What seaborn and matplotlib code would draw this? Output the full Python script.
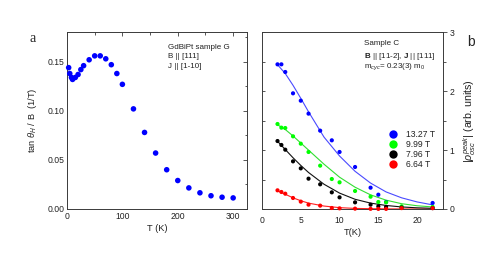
import numpy as np
import pandas as pd
import matplotlib
matplotlib.use("Agg")
import matplotlib.pyplot as plt
import seaborn as sns
from matplotlib.ticker import MultipleLocator

# ---------------- data: panel a ----------------
temp_a = [3, 5, 8, 10, 15, 20, 25, 30, 40, 50, 60, 70, 80, 90, 100,
          120, 140, 160, 180, 200, 220, 240, 260, 280, 300]
tan_a = [0.144, 0.138, 0.134, 0.132, 0.134, 0.137, 0.142, 0.146, 0.152, 0.156,
         0.156, 0.153, 0.147, 0.138, 0.127, 0.102, 0.078, 0.057, 0.040, 0.029,
         0.0215, 0.0165, 0.0135, 0.012, 0.0113]

# ---------------- data: panel b ----------------
fields = ["13.27 T", "9.99 T", "7.96 T", "6.64 T"]
colors = ["#0000ff", "#00ff00", "#000000", "#ff0000"]
line_colors = ["#4a4aff", "#33dd33", "#111111", "#ff2020"]

temp_blue = [2, 2.5, 3, 4, 5, 6, 7.5, 9, 10, 12, 14, 15, 16, 22]
amp_blue = [2.456, 2.456, 2.326, 1.964, 1.839, 1.619, 1.33, 1.166, 0.968, 0.713,
            0.362, 0.243, 0.119, 0.102]
temp_other = [2, 2.5, 3, 4, 5, 6, 7.5, 9, 10, 12, 14, 15, 16, 18, 22]
amp_green = [1.443, 1.381, 1.375, 1.234, 1.109, 0.968, 0.736, 0.509, 0.453, 0.306,
             0.209, 0.119, 0.113, 0.045, 0.035]
amp_black = [1.154, 1.087, 1.007, 0.809, 0.690, 0.515, 0.419, 0.283, 0.198, 0.113,
             0.074, 0.045, 0.034, 0.025, 0.015]
amp_red = [0.317, 0.289, 0.260, 0.187, 0.125, 0.074, 0.057, 0.017, 0.011, 0.006,
           0.003, 0.002, 0.002, 0.015, 0.015]

# fit curves
temp_fit = [2, 3, 4, 5, 6, 8, 10, 12, 14, 16, 18, 20, 22]
fit_blue = [2.45, 2.30, 2.10, 1.88, 1.65, 1.22, 0.90, 0.64, 0.44, 0.29, 0.19, 0.12, 0.07]
fit_green = [1.43, 1.35, 1.24, 1.12, 1.00, 0.76, 0.54, 0.37, 0.24, 0.15, 0.09, 0.055, 0.035]
fit_black = [1.15, 1.01, 0.87, 0.74, 0.62, 0.42, 0.27, 0.165, 0.10, 0.06, 0.035, 0.02, 0.012]
fit_red = [0.31, 0.25, 0.19, 0.14, 0.10, 0.05, 0.023, 0.01, 0.005, 0.002, 0.001, 0.0, 0.0]

sns.set_theme(style="white")
plt.rcParams["font.family"] = ["Liberation Sans", "DejaVu Sans"]
plt.rcParams["mathtext.fontset"] = "custom"
plt.rcParams["mathtext.rm"] = "Liberation Sans"
plt.rcParams["mathtext.it"] = "Liberation Sans:italic"
plt.rcParams["mathtext.bf"] = "Liberation Sans:bold"

fig = plt.figure(figsize=(5.01, 2.59), dpi=100)
axa = fig.add_axes([67 / 501, 1 - 209 / 259, 180 / 501, 176.7 / 259])
axb = fig.add_axes([262 / 501, 1 - 209 / 259, 180.7 / 501, 176.7 / 259])

spine_col = "#3a3a3a"
txt_col = "#222222"
fs = 6.2
fs_ann = 5.8

# ---- panel a ----
dfa = pd.DataFrame({"T": temp_a, "v": tan_a})
sns.scatterplot(data=dfa, x="T", y="v", ax=axa, color="#0000ff", s=16,
                edgecolor="none", clip_on=False, zorder=3)
axa.set_xlim(0, 325)
axa.set_ylim(0, 0.18)
axa.xaxis.set_major_locator(MultipleLocator(100))
axa.xaxis.set_minor_locator(MultipleLocator(50))
axa.yaxis.set_major_locator(MultipleLocator(0.05))
axa.yaxis.set_minor_locator(MultipleLocator(0.025))
axa.yaxis.set_major_formatter(matplotlib.ticker.FormatStrFormatter("%.2f"))
axa.tick_params(which="both", direction="in", top=True, right=True,
                labelsize=fs, colors=spine_col, labelcolor=txt_col, width=0.6, pad=2)
axa.tick_params(which="major", length=3)
axa.tick_params(which="minor", length=1.8)
axa.set_xlabel("T (K)", fontsize=fs + 0.5, labelpad=2, color=txt_col)
axa.set_ylabel(r"tan $\theta_H$ / B  (1/T)", fontsize=fs + 0.5, labelpad=6, color=txt_col)
axa.text(0.56, 0.935, "GdBiPt sample G\nB || [111]\nJ || [1-10]", transform=axa.transAxes,
         fontsize=fs_ann, va="top", ha="left", linespacing=1.5, color=txt_col)
fig.text(33 / 501, 1 - 38 / 259, "a", fontsize=10, family="Liberation Serif",
         ha="center", va="center")

# ---- panel b ----
series = [(temp_blue, amp_blue), (temp_other, amp_green),
          (temp_other, amp_black), (temp_other, amp_red)]
fits = [fit_blue, fit_green, fit_black, fit_red]
rows = []
for name, (tt, vv) in zip(fields, series):
    for t, v in zip(tt, vv):
        rows.append({"T": t, "v": v, "field": name})
dfb = pd.DataFrame(rows)
rows_fit = []
for name, vv in zip(fields, fits):
    for t, v in zip(temp_fit, vv):
        rows_fit.append({"T": t, "v": v, "field": name})
dff = pd.DataFrame(rows_fit)

sns.lineplot(data=dff, x="T", y="v", hue="field", hue_order=fields[::-1],
             palette=dict(zip(fields, line_colors)), ax=axb, legend=False,
             linewidth=0.8, zorder=2)
sns.scatterplot(data=dfb, x="T", y="v", hue="field", hue_order=fields[::-1],
                palette=dict(zip(fields, colors)), ax=axb, s=9,
                edgecolor="none", zorder=3, clip_on=False)
axb.set_xlim(0, 23.3)
axb.set_ylim(0, 3)
axb.set_ylabel("")
axb.xaxis.set_major_locator(MultipleLocator(5))
axb.yaxis.set_major_locator(MultipleLocator(0.5))
axb.tick_params(axis="x", direction="out", length=3, width=0.6, colors=spine_col,
                labelsize=fs, labelcolor=txt_col, pad=2)
axb.tick_params(axis="y", direction="in", length=2.5, width=0.6, colors=spine_col,
                left=True, right=False, labelleft=False)
axb.set_xlabel("T(K)", fontsize=fs + 0.5, labelpad=2, color=txt_col)

# right-hand labelled axis
axr = axb.twinx()
axr.set_ylim(0, 3)
axr.yaxis.set_major_locator(MultipleLocator(1))
axr.yaxis.set_minor_locator(MultipleLocator(0.5))
axr.tick_params(which="both", axis="y", direction="out", width=0.6, colors=spine_col,
                labelsize=fs, labelcolor=txt_col, pad=2)
axr.tick_params(which="major", length=3)
axr.tick_params(which="minor", length=1.8)
axr.set_ylabel(r"|$\rho_{osc}^{peak}$| (arb. units)", fontsize=fs + 1.5,
               labelpad=5, color=txt_col)
for sp in axr.spines.values():
    sp.set_visible(False)

axb.text(0.565, 0.955, "Sample C", transform=axb.transAxes, fontsize=fs_ann,
         va="top", ha="left", color=txt_col)
axb.text(0.565, 0.895, r"$\mathbf{B}$ || [11-2], $\mathbf{J}$ || [111]",
         transform=axb.transAxes, fontsize=fs_ann, va="top", ha="left", color=txt_col)
axb.text(0.565, 0.835, r"m$_{cyc}$= 0.23(3) m$_0$", transform=axb.transAxes,
         fontsize=fs_ann, va="top", ha="left", color=txt_col)
fig.text(471 / 501, 1 - 42 / 259, "b", fontsize=10, ha="center", va="center")

handles, labels = axb.get_legend_handles_labels()
order = [labels.index(f) for f in fields]
leg = axb.legend([handles[i] for i in order], [labels[i] for i in order],
                 loc="upper left", bbox_to_anchor=(0.68, 0.465), frameon=False,
                 fontsize=fs, handletextpad=1.0, labelspacing=0.12,
                 borderaxespad=0, handlelength=1.0, markerscale=2.0)
for t in leg.get_texts():
    t.set_color(txt_col)

for ax in (axa, axb):
    for sp in ax.spines.values():
        sp.set_color(spine_col)
        sp.set_linewidth(0.7)

fig.savefig("out.png", dpi=100)
